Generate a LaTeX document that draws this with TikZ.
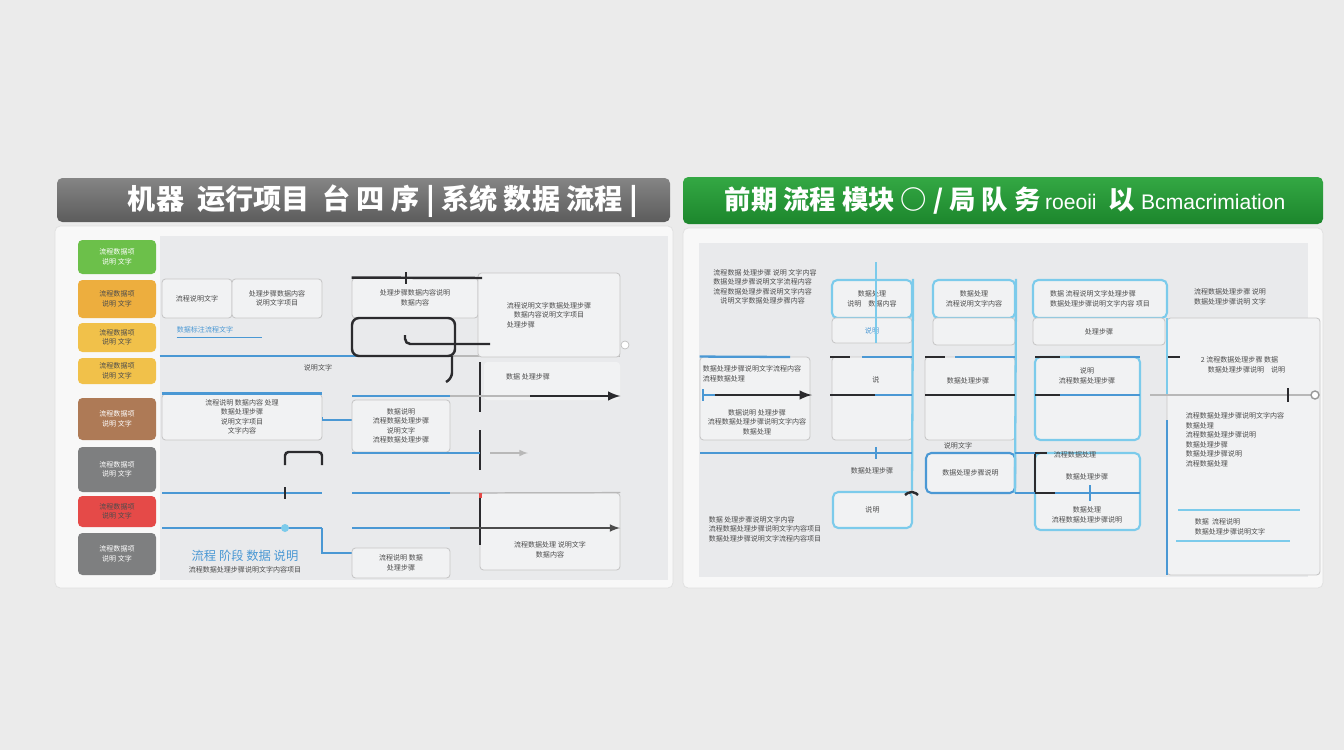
\documentclass[tikz,border=0pt]{standalone}
\usepackage{fontspec}
\setmainfont{Liberation Sans}
\newfontfamily\cjk{Noto Sans CJK SC}
\usetikzlibrary{positioning,fit}
\definecolor{wall}{HTML}{EBEBEB}
\definecolor{panelwhite}{HTML}{F8F8F8}
\definecolor{areagrey}{HTML}{E9EAEC}
\definecolor{boxwhite}{HTML}{F1F2F3}
\definecolor{flowblue}{HTML}{4A98D4}
\definecolor{flowcyan}{HTML}{7CCBEB}
\definecolor{flowdark}{HTML}{2B2B2E}
\definecolor{tgreen}{HTML}{6CC04A}
\definecolor{torange}{HTML}{EDAE3E}
\definecolor{tyellow}{HTML}{F1C14A}
\definecolor{tbrown}{HTML}{AE7A56}
\definecolor{tgrey}{HTML}{7E7F80}
\definecolor{tred}{HTML}{E54A48}
\begin{document}
\begin{tikzpicture}[x=0.2mm, y=-0.2mm, node distance=4mm, auto]
    \tikzstyle{panel} = [draw=black!12, fill=panelwhite, rounded corners=3pt, inner sep=0pt]
    \tikzstyle{area} = [fill=areagrey, inner sep=0pt]
    \tikzstyle{head} = [rounded corners=3pt, inner sep=0pt]
    \tikzstyle{tag} = [rounded corners=2.5pt, inner sep=0pt]
    \tikzstyle{box} = [draw=black!22, fill=boxwhite, rounded corners=2pt, inner sep=0pt, line width=0.5pt]
    \tikzstyle{cbox} = [draw=flowcyan, fill=boxwhite, rounded corners=3pt, inner sep=0pt, line width=1.2pt]
    \tikzstyle{tiny} = [font=\cjk\fontsize{4}{5.4}\selectfont, text=black!70, align=center, inner sep=0pt]
    \tikzstyle{title} = [font=\cjk\bfseries\fontsize{16}{18}\selectfont, text=white]
    \tikzstyle{flow} = [draw=flowblue, line width=1.3pt]
    \tikzstyle{dark} = [draw=flowdark, line width=1.4pt]
    \tikzstyle{faint} = [draw=black!28, line width=0.7pt]
    \tikzstyle{line} = [draw, -latex]

    % wall
    \fill[wall] (0,0) rectangle (1344,750);

    % left board
    \node [panel, fit={(55,226)(673,588)}] (lpanel) {};
    \node [head, top color=black!48, bottom color=black!64, fit={(57,178)(670,222)}] (lhead) {};
    \node [title] (lheadt) at (383,201) {机器\ \ 运行项目\ \ 台\ 四\ 序\ |\ 系统\ 数据\ 流程\ |};
    \node [area, fit={(160,236)(668,580)}] (larea) {};

    % left tags
    \foreach \i/\ya/\yb/\c/\t in {1/240/274/tgreen/white, 2/280/318/torange/black!70, 3/323/352/tyellow/black!70,
        4/358/384/tyellow/black!70, 5/398/440/tbrown/white, 6/447/492/tgrey/white, 7/496/527/tred/black!70, 8/533/575/tgrey/white}
    {
        \node [tag, fill=\c, fit={(78,\ya)(156,\yb)}] (tag\i) {};
        \node [tiny, text=\t] (tag\i t) at (tag\i.center) {流程数据项\\ 说明 文字};
    }

    % left flow, first column
    \node [box, fit={(162,279)(232,318)}] (la) {};
    \node [tiny] (lat) at (la.center) {流程说明文字};
    \node [box, fit={(232,279)(322,318)}] (lb) {};
    \node [tiny] (lbt) at (lb.center) {处理步骤数据内容\\ 说明文字项目};
    \node [tiny, text=flowblue] (lbl) at (205,330) {数据标注流程文字};
    \draw [flow, line width=0.6pt] (lbl.south west) ++(0,4) -- ++(85,0);
    \node [box, fit={(162,394)(322,440)}] (lc) {};
    \node [tiny] (lct) at (lc.center) {流程说明\ 数据内容\ 处理\\ 数据处理步骤\\ 说明文字项目\\ 文字内容};
    \node [tiny] (lnote) at (318,368) {说明文字};
    \node [tiny, text=flowblue, font=\cjk\fontsize{7}{8}\selectfont] (lfoot) at (245,556) {流程\ 阶段\ 数据\ 说明};
    \node [tiny] (lfoot2) at (245,570) {流程数据处理步骤说明文字内容项目};

    \coordinate (r1) at (620,356);
    \draw [flow] (larea.west |- r1) -- (452,356);
    \draw [faint] (452,356) -- (r1);
    \draw [flow] (lc.north west) -- (lc.north east);
    \draw [flow] (162,493) -- (322,493);
    \draw [flow] (162,528) -- (322,528);
    \draw [flow, line width=0.7pt] (lc.east) |- (352,420);
    \draw [flow, line width=0.7pt] (322,528) |- (352,553);
    \draw [dark, rounded corners=2pt] (285,465) |- (322,452) -- (322,465);
    \draw [dark] (285,487) -- (285,499);
    \fill [flowcyan] (285,528) circle (4);

    % left flow, middle column
    \node [box, fit={(352,278)(478,318)}] (ma) {};
    \node [tiny] (mat) at (ma.center) {处理步骤数据内容说明\\ 数据内容};
    \node [box, fit={(478,273)(620,357)}] (mbig) {};
    \node [tiny, align=left] (mbigt) at (mbig.center) {流程说明文字数据处理步骤\\ \quad 数据内容说明文字项目\\ 处理步骤};
    \node [box, draw=none, fit={(484,362)(620,400)}] (mb) {};
    \node [tiny] (mbt) at (528,377) {数据\ 处理步骤};
    \node [box, fit={(352,400)(450,452)}] (mc) {};
    \node [tiny] (mct) at (mc.center) {数据说明\\ 流程数据处理步骤\\ 说明文字\\ 流程数据处理步骤};
    \node [box, fit={(480,493)(620,570)}] (md) {};
    \node [tiny] (mdt) at (550,550) {流程数据处理\ 说明文字\\ 数据内容};
    \node [box, fit={(352,548)(450,578)}] (me) {};
    \node [tiny] (met) at (me.center) {流程说明\ 数据\\ 处理步骤};

    \draw [dark] (ma.north west) -- (482,278);
    \draw [dark] (406,272) -- (406,284);
    \draw [dark, rounded corners=4pt] (352,318) rectangle (455,356);
    \draw [dark, rounded corners=3pt] (405,335) |- (490,344);
    \draw [dark, rounded corners=3pt] (452,356) -- (452,378) -- (446,382);
    \draw [dark] (480,362) -- (480,412) (480,430) -- (480,470) (480,498) -- (480,545);
    \draw [flow] (352,396) -- (450,396);
    \draw [faint, line width=1.4pt] (450,396) -- (530,396);
    \draw [line, dark] (530,396) -- (mb.south east |- 0,396);
    \draw [flow] (352,453) -- (480,453);
    \draw [line, faint] (490,453) -- (528,453);
    \draw [flow] (352,493) -- (450,493);
    \draw [faint] (450,493) -- (md.north east);
    \draw [flow] (352,528) -- (450,528);
    \draw [line, draw=black!70, line width=1pt] (450,528) -- (620,528);
    \draw [fill=white, draw=black!25] (625,345) circle (4);
    \fill [tred] (479,493) rectangle (482,498);

    % right board
    \node [panel, fit={(683,228)(1323,588)}] (rpanel) {};
    \node [head, top color={rgb,255:red,52;green,168;blue,68}, bottom color={rgb,255:red,28;green,134;blue,44}, fit={(683,177)(1323,224)}] (rhead) {};
    \node [title, font=\cjk\bfseries\fontsize{15}{18}\selectfont] (rheadt) at (1005,201) {前期\ 流程\ 模块\ ○\ /\ 局\ 队\ 务\,{\rmfamily\mdseries\fontsize{12}{14}\selectfont roeoii}\ \ 以\ {\rmfamily\mdseries\fontsize{12}{14}\selectfont Bcmacrimiation}};
    \node [area, fit={(699,243)(1308,577)}] (rarea) {};

    % right flow boxes
    \node [tiny, align=left] (ra) at (765,287) {流程数据\ 处理步骤\ 说明\ 文字内容\\ 数据处理步骤说明文字流程内容\\ 流程数据处理步骤说明文字内容\\ \quad 说明文字数据处理步骤内容};
    \node [cbox, fit={(832,280)(912,318)}] (rb) {};
    \node [tiny] (rbt) at (rb.center) {数据处理\\ 说明\quad 数据内容};
    \node [box, fit={(832,318)(912,343)}] (rc) {};
    \node [tiny, text=flowblue] (rct) at (rc.center) {说明};
    \node [cbox, fit={(933,280)(1015,318)}] (rd) {};
    \node [tiny] (rdt) at (rd.center) {数据处理\\ 流程说明文字内容};
    \node [box, fit={(933,318)(1015,345)}] (re) {};
    \node [cbox, fit={(1033,280)(1167,318)}] (rf) {};
    \node [tiny, align=left] (rft) at (rf.center) {数据\ 流程说明文字处理步骤\\ 数据处理步骤说明文字内容\ 项目};
    \node [tiny, align=left] (rg) at (1230,297) {流程数据处理步骤\ 说明\\ 数据处理步骤说明\ 文字};
    \node [box, fit={(1033,318)(1165,345)}] (rh) {};
    \node [tiny] (rht) at (rh.center) {处理步骤};
    \node [box, fit={(700,357)(810,440)}] (ri) {};
    \node [tiny, align=left] (rit) at (752,374) {数据处理步骤说明文字流程内容\\ 流程数据处理};
    \node [tiny] (rit2) at (757,422) {数据说明\ 处理步骤\\ 流程数据处理步骤说明文字内容\\ 数据处理};
    \node [box, fit={(832,357)(912,440)}] (rj) {};
    \node [tiny] (rjt) at (876,380) {说};
    \node [box, fit={(925,357)(1015,440)}] (rk) {};
    \node [tiny] (rkt) at (968,381) {数据处理步骤};
    \node [cbox, fit={(1035,357)(1140,440)}] (rl) {};
    \node [tiny] (rlt) at (1087,376) {说明\\ 流程数据处理步骤};
    \node [box, fit={(1167,318)(1320,575)}] (rbig) {};
    \node [tiny, align=left] (rbigt) at (1243,365) {2\ 流程数据处理步骤\ 数据\\ \quad 数据处理步骤说明\quad 说明};
    \node [tiny, align=left] (rbigt2) at (1235,440) {流程数据处理步骤说明文字内容\\ 数据处理\\ 流程数据处理步骤说明\\ 数据处理步骤\\ 数据处理步骤说明\\ 流程数据处理};
    \node [tiny, align=left] (rbigt3) at (1230,527) {数据\ \ 流程说明\\ 数据处理步骤说明文字};
    \draw [flowcyan, line width=0.6pt] (1178,510) -- (1300,510) (1176,541) -- (1290,541);

    \node [cbox, draw=flowblue, fit={(926,453)(1015,493)}] (rm) {};
    \node [tiny] (rmt) at (rm.center) {数据处理步骤说明};
    \node [tiny] (rmn) at (958,446) {说明文字};
    \node [cbox, fit={(833,492)(912,528)}] (rn) {};
    \node [tiny] (rnt) at (rn.center) {说明};
    \node [tiny] (rnl) at (872,471) {数据处理步骤};
    \node [tiny, align=left] (ro) at (765,529) {数据\ 处理步骤说明文字内容\\ 流程数据处理步骤说明文字内容项目\\ 数据处理步骤说明文字流程内容项目};
    \node [cbox, fit={(1035,453)(1140,530)}] (rp) {};
    \node [tiny] (rpt) at (1087,515) {数据处理\\ 流程数据处理步骤说明};
    \node [tiny] (rpl) at (1075,455) {流程数据处理};
    \node [tiny] (rpl2) at (1087,477) {数据处理步骤};

    % right flow lines
    \draw [flow, draw=flowcyan] (876,262) -- (rc.south -| 876,0);
    \draw [flow, draw=flowcyan] (rb.north east) -- (912,490);
    \draw [flow, draw=flowcyan] (rd.north east) -- (1015,493);
    \draw [flow, draw=flowcyan] (1167,318) -- (1167,395);
    \draw [flow, draw=flowblue] (1167,420) -- (1167,575);
    \draw [dark] (830,357) -- (850,357);
    \draw [flow] (862,357) -- (912,357);
    \draw [dark] (925,357) -- (945,357);
    \draw [flow] (955,357) -- (1015,357);
    \draw [dark] (1035,357) -- (1060,357);
    \draw [flow] (1070,357) -- (1140,357);
    \draw [dark] (1168,357) -- (1180,357);
    \draw [flow] (ri.north west) -- (790,357);
    \draw [flow, draw=flowblue] (703,389) -- (703,401);
    \draw [flow] (703,395) -- (715,395);
    \draw [line, dark] (715,395) -- (812,395);
    \draw [dark] (830,395) -- (875,395);
    \draw [flow] (875,395) -- (912,395);
    \draw [dark] (925,395) -- (1015,395);
    \draw [dark] (1035,395) -- (1060,395);
    \draw [flow] (1060,395) -- (1140,395);
    \draw [faint, line width=1.2pt] (1150,395) -- (1312,395);
    \draw [fill=white, draw=black!40, line width=0.8pt] (1315,395) circle (4);
    \draw [dark] (1288,388) -- (1288,402);
    \draw [flow] (700,453) -- (912,453);
    \draw [flow] (876,447) -- (876,459);
    \draw [dark, rounded corners=3pt] (905,495) -- (912,490) -- (918,495);
    \draw [dark] (1035,453) -- (1047,453);
    \draw [dark] (1035,453) -- (1035,493);
    \draw [dark] (1035,493) -- (1055,493);
    \draw [flow] (1055,493) -- (1140,493);
    \draw [flow] (1090,485) -- (1090,501);
    \draw [flow] (1015,453) -- (1035,453);
    \draw [flow] (1015,493) -- (1035,493);
\end{tikzpicture}
\end{document}
